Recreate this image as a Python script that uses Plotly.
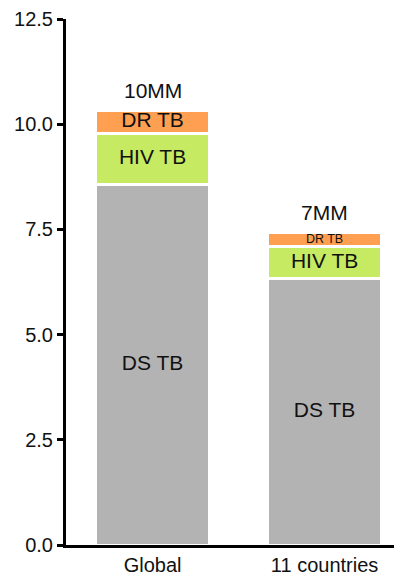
import plotly.graph_objects as go

categories = ["Global", "11 countries"]
ds_tb = [8.57, 6.33]
hiv_tb = [1.21, 0.76]
dr_tb = [0.55, 0.34]
totals_labels = ["10MM", "7MM"]
series_names = ["DS TB", "HIV TB", "DR TB"]
series_values = [ds_tb, hiv_tb, dr_tb]
series_colors = ["#b3b3b3", "#c6ea62", "#ff9f52"]
label_sizes = [[21, 21], [21, 21], [21, 12.5]]

FONT = "Liberation Sans, Arial, sans-serif"

fig = go.Figure()
for name, vals, col in zip(series_names, series_values, series_colors):
    fig.add_trace(go.Bar(
        x=categories, y=vals, name=name,
        marker=dict(color=col, line=dict(color="white", width=2.5)),
        width=0.657, textposition="none", hoverinfo="skip",
    ))

# labels centered inside each segment
base = [0.0, 0.0]
for name, vals, sizes in zip(series_names, series_values, label_sizes):
    mids = [b + v / 2 for b, v in zip(base, vals)]
    fig.add_trace(go.Scatter(
        x=categories, y=mids, mode="text", text=[name, name],
        textposition="middle center",
        textfont=dict(size=sizes, color="#111111", family=FONT),
        showlegend=False, hoverinfo="skip",
    ))
    base = [b + v for b, v in zip(base, vals)]

for cat, tot, lab in zip(categories, base, totals_labels):
    fig.add_annotation(x=cat, y=tot, text=lab, showarrow=False,
                       yanchor="bottom", yshift=6,
                       font=dict(size=21, color="#111111", family=FONT))

fig.update_layout(
    width=394, height=568,
    margin=dict(l=58, r=0, t=8, b=25),
    barmode="stack", showlegend=False,
    plot_bgcolor="white", paper_bgcolor="white",
    font=dict(family=FONT, color="#111111"),
    xaxis=dict(range=[-0.503, 1.45], showline=True, linecolor="black", linewidth=3,
               ticks="", tickfont=dict(size=20), showgrid=False, zeroline=False),
    yaxis=dict(range=[0, 12.5], tickvals=[0, 2.5, 5, 7.5, 10, 12.5],
               ticktext=["0.0", "2.5", "5.0", "7.5", "10.0", "12.5"],
               showline=True, linecolor="black", linewidth=3,
               ticks="outside", ticklen=6, tickwidth=3, tickcolor="black",
               ticklabeloverflow="allow",
               tickfont=dict(size=20), showgrid=False, zeroline=False),
)

fig.write_html("out.html")
